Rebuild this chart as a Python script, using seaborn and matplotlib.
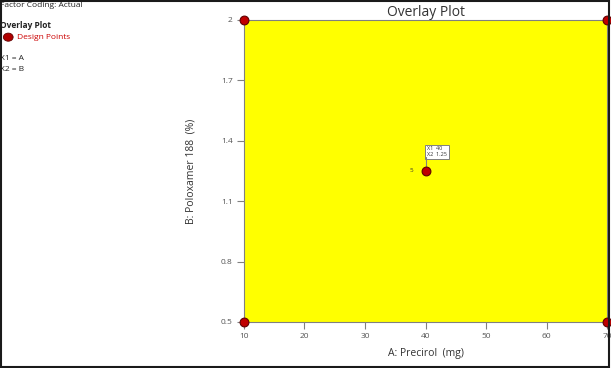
import matplotlib
matplotlib.use("Agg")
import matplotlib.pyplot as plt
import seaborn as sns
import pandas as pd

sns.set_theme(style="white")
plt.rcParams['font.family'] = ['Open Sans', 'DejaVu Sans']

# Design points (A: Precirol mg, B: Poloxamer 188 %)
precirol = [10, 10, 70, 70, 40]
poloxamer = [0.5, 2.0, 0.5, 2.0, 1.25]
run_labels = ['', '', '', '', '5']

x_ticks = [10, 20, 30, 40, 50, 60, 70]
y_ticks = [0.5, 0.8, 1.1, 1.4, 1.7, 2]
y_tick_labels = ['0.5', '0.8', '1.1', '1.4', '1.7', '2']

df = pd.DataFrame({'A': precirol, 'B': poloxamer, 'run': run_labels})

fig = plt.figure(figsize=(6.11, 3.68), dpi=100)
ax = fig.add_axes([0.3993, 0.125, 0.5942, 0.8207])

# Overlay region (whole design space acceptable)
ax.fill_between([min(precirol), max(precirol)], min(poloxamer), max(poloxamer),
                color='#ffff00', zorder=0)

sns.scatterplot(data=df, x='A', y='B', ax=ax, color='#c00000', edgecolor='#600000',
                s=40, linewidth=0.8, zorder=5, clip_on=False, legend=False)

# point label and flag for the center point
cx, cy = precirol[4], poloxamer[4]
ax.text(cx - 2.3, cy, run_labels[4], fontsize=4.5, ha='center', va='center', color='#333333')
ax.plot([cx, cx], [cy, cy + 0.07], color='#808080', lw=0.8, zorder=4)
ax.text(cx + 0.3, cy + 0.07, 'X1  40\nX2  1.25', fontsize=4, va='bottom', ha='left',
        color='#333333', linespacing=1.1,
        bbox=dict(boxstyle='square,pad=0.35', fc='white', ec='#808080', lw=0.7))

ax.set_xlim(10, 70)
ax.set_ylim(0.5, 2)
ax.set_xticks(x_ticks)
ax.set_yticks(y_ticks)
ax.set_yticklabels(y_tick_labels)
ax.tick_params(axis='both', direction='out', length=5, width=0.8, color='#808080',
               labelsize=6, labelcolor='#555555', pad=3, bottom=True, left=True)
for sp in ax.spines.values():
    sp.set_color('#808080')
    sp.set_linewidth(0.8)

ax.set_xlabel('A: Precirol  (mg)', fontsize=7.5, color='#333333', labelpad=6)
ax.set_ylabel('B: Poloxamer 188  (%)', fontsize=7.5, color='#333333', labelpad=18)
ax.set_title('Overlay Plot', fontsize=10, color='#333333', pad=3)

# legend-like text block on the left
fig.text(0.0, 0.995, 'Factor Coding: Actual', fontsize=6, va='top', color='#222222')
fig.text(0.0, 0.932, 'Overlay Plot', fontsize=6, va='center', weight='bold', color='#222222')
fig.text(0.028, 0.899, 'Design Points', fontsize=6, va='center', color='#cc0000')
fig.add_artist(matplotlib.patches.Ellipse((0.0135, 0.899), 0.016, 0.022,
                                          transform=fig.transFigure, fc='#b00000', ec='#600000', lw=0.6))
fig.text(0.0, 0.84, 'X1 = A', fontsize=6, va='center', color='#222222')
fig.text(0.0, 0.81, 'X2 = B', fontsize=6, va='center', color='#222222')

# outer frame
fig.add_artist(matplotlib.patches.Rectangle((0.002, 0.004), 0.994, 0.992, transform=fig.transFigure,
                                            fill=False, ec='#1a1a1a', lw=1.5))

fig.savefig('out.png', dpi=100)
